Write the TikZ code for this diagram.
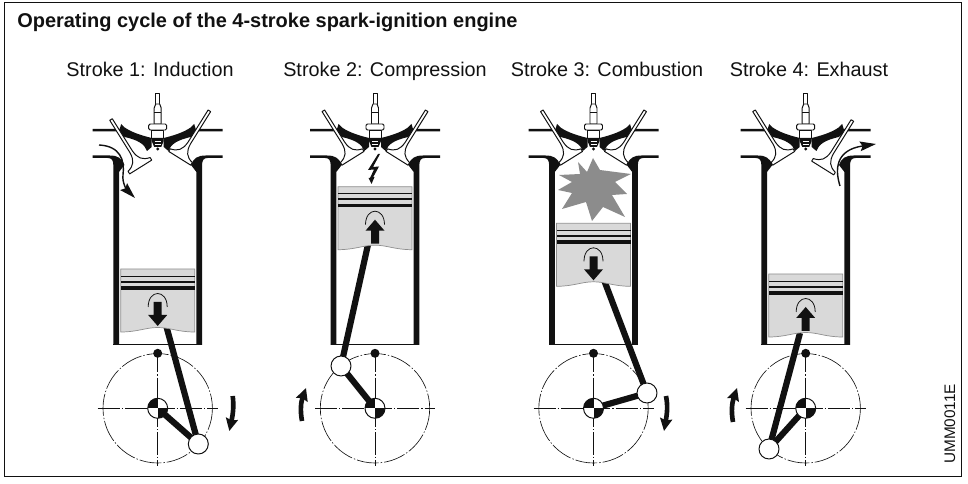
\documentclass[tikz,border=0pt]{standalone}
\usepackage{fontspec}
\setmainfont{Liberation Sans}
\usetikzlibrary{arrows.meta,calc}
\definecolor{ink}{HTML}{111111}
\definecolor{crown}{HTML}{D9D9D9}
\definecolor{crownedge}{HTML}{8F8F8F}
\definecolor{flame}{HTML}{8C8C8C}
\newcommand{\titlefont}{\fontsize{14.2}{17}\selectfont}
\newcommand{\strokefont}{\fontsize{14.1}{17}\selectfont}
\newcommand{\codefont}{\fontsize{10.9}{13}\selectfont}
\tikzset{
  part/.style={draw=ink,fill=white,line width=0.7pt,line join=round},
  linkbar/.style={ink,line width=4.4pt},
  gasflow/.style={ink,line width=1pt,-{Stealth[length=4mm,width=2.4mm,inset=0.6mm]}},
  turnflow/.style={ink,line width=3.3pt,-{Stealth[length=3.1mm,width=3mm,inset=0.4mm]}},
  centreline/.style={ink,line width=0.45pt,dash pattern=on 5.5mm off 0.5mm on 0.35mm off 0.5mm},
  strokelabel/.style={anchor=base,inner sep=0,font=\strokefont,text=ink}
}
% one side of the head and the cylinder wall
\newcommand{\headside}[1]{
  \begin{scope}[xscale=#1]
  \fill[ink] (-65,129) -- (-38,129) -- (-36.5,124) -- (-33,127.5) .. controls (-25,133) and (-14,136) .. (-6,138)
    -- (-6,147) -- (-10.7,151) .. controls (-13,144) and (-20,140) .. (-33,137) -- (-40,131.5) -- (-65,131.5) -- cycle;
  \fill[ink] (-65,155.5) -- (-48,155.5) .. controls (-40,155.5) and (-36,158) .. (-33.3,165) -- (-38.7,172)
    -- (-38.7,345) -- (-44.3,345) -- (-44.3,166) .. controls (-44.3,160) and (-46,158) .. (-50,158) -- (-65,158) -- cycle;
  \end{scope}
}
\newcommand{\valve}[3]{
  \begin{scope}[shift={(#1,#2)},rotate=#3]
  \draw[part] (-13,0) -- (13,0) -- (13,-3) .. controls (5,-5) and (2,-9) .. (1.5,-18) -- (1.5,-56) -- (-1.5,-56)
    -- (-1.5,-18) .. controls (-2,-9) and (-5,-5) .. (-13,-3) -- cycle;
  \end{scope}
}
\newcommand{\sparkplug}{
  \draw[part] (-2,93) rectangle (2,105);
  \draw[part] (-3.5,124) -- (-3.5,108) -- (-2,104) -- (2,104) -- (3.5,108) -- (3.5,124) -- cycle;
  \draw[part] (-3.5,112) -- (3.5,112);
  \draw[part,rounded corners=1pt] (-9,124) rectangle (9,130);
  \draw[part] (-6,130) rectangle (6,138);
  \fill[ink] (-6,138) -- (6,138) -- (6,141) -- (3.5,147) -- (-3.5,147) -- (-6,141) -- cycle;
  \draw[white,line width=0.4pt] (-3,141) -- (3,141) (-3,144) -- (3,144);
  \fill[ink] (0,149) circle (1.6);
}
% cylinder with head; closed valve sits at -22 / 22, 158.3
\newcommand{\cylinder}[5]{
  \begin{scope}[shift={(#1,0)}]
  \headside{1} \headside{-1}
  \draw[ink,line width=0.8pt] (-44.3,344.5) -- (44.3,344.5);
  \valve{#2}{#3}{32} \valve{#4}{#5}{-32}
  \sparkplug
  \end{scope}
}
% piston, #3 = 1 down, -1 up
\newcommand{\piston}[3]{
  \begin{scope}[shift={(#1,#2)}]
  \draw[draw=crownedge,fill=crown,line width=0.5pt] (-37,0) -- (37,0) -- (37,63) .. controls (20,63) and (12,58.5) .. (0,58.5)
    .. controls (-12,58.5) and (-20,63) .. (-37,63) -- cycle;
  \fill[ink] (-37,6.6) rectangle (37,7.7);
  \fill[ink] (-37,11.8) rectangle (37,13.6);
  \fill[ink] (-37,17) rectangle (37,20.6);
  \draw[ink,line width=0.55pt] (-9.5,38) .. controls (-9.5,20) and (9.5,20) .. (9.5,38);
  \begin{scope}[shift={(0,45)},yscale=#3]
  \fill[ink] (-4,-12) -- (4,-12) -- (4,1) -- (9.5,1) -- (0,12) -- (-9.5,1) -- (-4,1) -- cycle;
  \end{scope}
  \end{scope}
}
% crank circle at cx, 408 with pin at #2, #3
\newcommand{\crank}[3]{
  \begin{scope}[shift={(#1,408.3)}]
  \coordinate (hub) at (0,0);
  \draw[centreline] (hub) circle (54.7);
  \draw[centreline] (-60,0) -- (60,0);
  \draw[centreline] (0,-58) -- (0,58);
  \fill[ink] (0,-55) circle (4.5);
  \draw[linkbar] (hub) -- (#2,#3);
  \draw[part] (#2,#3) circle (10);
  \draw[part] (hub) circle (10);
  \begin{scope}
  \clip (hub) circle (10);
  \fill[ink] (-10,-10) rectangle (0,0);
  \fill[ink] (0,0) rectangle (10,10);
  \end{scope}
  \end{scope}
}
\begin{document}
\begin{tikzpicture}[x=0.25mm,y=-0.25mm]
\useasboundingbox (0,0) rectangle (968,484);
\draw[ink,line width=0.7pt] (4.5,2.5) rectangle (961,476);
\node[anchor=base west,inner sep=0,font=\titlefont\bfseries,text=ink] (title) at (17,27.5) {Operating cycle of the 4-stroke spark-ignition engine};
\node[strokelabel] (label1) at (150,76.5) {Stroke 1: Induction};
\node[strokelabel] (label2) at (385,76.5) {Stroke 2: Compression};
\node[strokelabel] (label3) at (607,76.5) {Stroke 3: Combustion};
\node[strokelabel] (label4) at (809,76.5) {Stroke 4: Exhaust};
\node[rotate=90,anchor=base west,inner sep=0,font=\codefont,text=ink] (code) at (955,464) {UMM0011E};
% stroke 1
\coordinate (rod1) at (166,325);
\coordinate (pin1) at (198.3,444);
\draw[linkbar] (rod1) -- (pin1);
\cylinder{157.7}{-17}{167}{22}{158.3}
\piston{157.7}{269}{1}
\crank{157.7}{40.6}{35.7}
\draw[gasflow] (99,145) .. controls (120,146) and (125,160) .. (123,175) .. controls (122,183) and (127,190) .. (135,198);
\draw[turnflow] (232.7,396) .. controls (234,406) and (233,414) .. (229.3,431);
% stroke 2
\coordinate (rod2) at (369,240);
\coordinate (pin2) at (341,366);
\draw[linkbar] (rod2) -- (pin2);
\cylinder{375}{-22}{158.3}{22}{158.3}
\piston{375}{186.7}{-1}
\crank{375}{-34}{-42.3}
\fill[ink] (378,154) -- (368,170) -- (374,169.5) -- (370,178) -- (368.5,178) -- (371.5,184) -- (374.5,177) -- (373,177.5) -- (379,166.5) -- (373,167) -- (380,154) -- cycle;
\draw[turnflow] (302,421) .. controls (300,410) and (301,402) .. (306,388);
% stroke 3
\coordinate (rod3) at (604,280);
\coordinate (pin3) at (647,393);
\draw[linkbar] (rod3) -- (pin3);
\cylinder{593.5}{-22}{158.3}{22}{158.3}
\piston{593.5}{223.3}{1}
\crank{593.5}{53.5}{-15.3}
\fill[flame] (578,162) -- (587,172) -- (593,158) -- (600,170) -- (631,174) -- (615,182) -- (627,194) -- (612,195) -- (625,217) -- (603,207) -- (592,221) -- (586,202) -- (562,209) -- (572,193) -- (558,190) -- (572,182) -- (559,175) -- (580,174) -- cycle;
\draw[turnflow] (666,396) .. controls (668,406) and (667,414) .. (664,431);
% stroke 4
\coordinate (rod4) at (800,333);
\coordinate (pin4) at (769,449);
\draw[linkbar] (rod4) -- (pin4);
\cylinder{805.7}{-22}{158.3}{17}{168}
\piston{805.7}{274}{-1}
\crank{805.7}{-36.7}{40.7}
\draw[gasflow] (840,186) .. controls (835,170) and (835,150) .. (876,144);
\draw[turnflow] (733,422) .. controls (731,411) and (732,403) .. (737,388);
\end{tikzpicture}
\end{document}
